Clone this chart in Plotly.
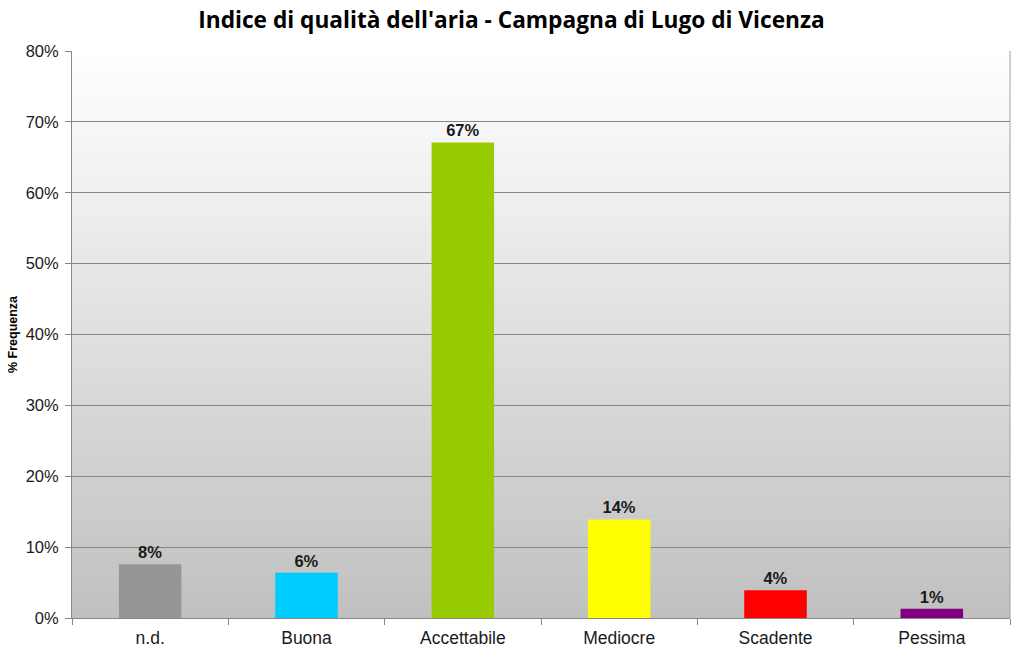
import plotly.graph_objects as go

categories = ["n.d.", "Buona", "Accettabile", "Mediocre", "Scadente", "Pessima"]
values = [7.6, 6.4, 67.1, 13.9, 3.9, 1.3]
bar_colors = ["#969696", "#00ccff", "#99cc00", "#ffff00", "#ff0000", "#800080"]
y_ticks = [0, 10, 20, 30, 40, 50, 60, 70, 80]
y_tick_labels = [f"{v}%" for v in y_ticks]

fig = go.Figure()
fig.add_trace(go.Bar(
    x=categories, y=values,
    marker=dict(color=bar_colors, line=dict(width=0)),
    width=0.4,
    texttemplate="<b>%{y:.0f}%</b>",
    textposition="outside",
    textfont=dict(family="Liberation Sans, Arial", size=16.5, color="#1a1a1a"),
    cliponaxis=False,
))

# vertical gradient background of the plot area
n = 120
shapes = []
for i in range(n):
    t = i / (n - 1)
    c = int(round(255 - (255 - 192) * (1 - t)))
    shapes.append(dict(type="rect", xref="paper", yref="paper",
                       x0=0, x1=1, y0=i / n, y1=(i + 1) / n + 0.001,
                       fillcolor=f"rgb({c},{c},{c})", line=dict(width=0),
                       layer="below"))

fig.update_layout(
    width=1023, height=669,
    margin=dict(l=72, r=13, t=51, b=51),
    paper_bgcolor="white",
    plot_bgcolor="rgba(0,0,0,0)",
    shapes=shapes,
    showlegend=False,
    bargap=0.6,
    title=dict(text="<b>Indice di qualità dell'aria - Campagna di Lugo di Vicenza</b>",
               x=0.5, xanchor="center", y=0.97, yanchor="middle",
               font=dict(family="Open Sans, Noto Sans", size=22.7, color="#000000")),
    xaxis=dict(
        automargin=False,
        tickson="boundaries", ticks="outside", ticklen=6, tickcolor="#868686",
        showline=True, linecolor="#868686", linewidth=1,
        tickfont=dict(family="Liberation Sans, Arial", size=17.5, color="#1a1a1a"),
        ticklabelstandoff=4,
        showgrid=False,
    ),
    yaxis=dict(
        automargin=False,
        range=[0, 80], tickvals=y_ticks, ticktext=y_tick_labels,
        ticks="outside", ticklen=6, tickcolor="#868686",
        showline=True, linecolor="#868686", linewidth=1,
        showgrid=True, gridcolor="#868686", gridwidth=1,
        zeroline=False,
        tickfont=dict(family="Liberation Sans, Arial", size=16.5, color="#1a1a1a"),
        ticklabelstandoff=3,
        title=dict(text="<b>% Frequenza</b>", standoff=5,
                   font=dict(family="Liberation Sans, Arial", size=12.5, color="#000000")),
    ),
)

# right border of plot area
fig.add_shape(type="line", xref="paper", yref="paper", x0=1, x1=1, y0=0, y1=1,
              line=dict(color="#a0a0a0", width=1))

fig.write_html("out.html")
